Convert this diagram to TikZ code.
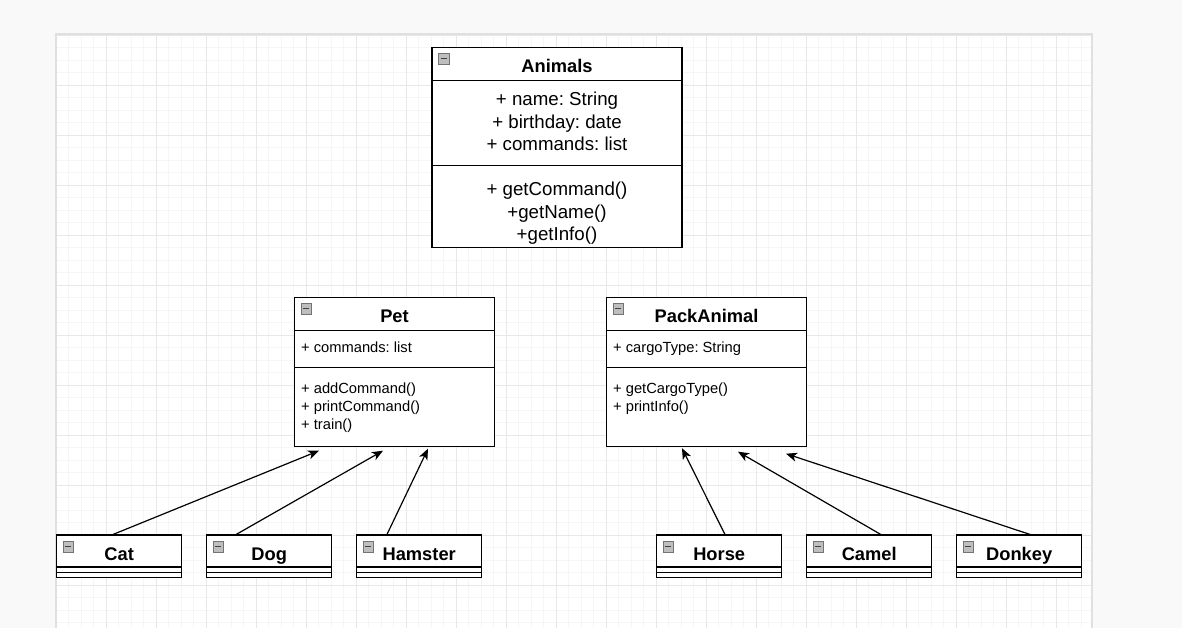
\documentclass[tikz,border=0pt]{standalone}
\usepackage{fontspec}
\setmainfont{Liberation Sans}
\usepackage{tikz}
\usetikzlibrary{arrows.meta, positioning, calc}

\definecolor{pagebg}{RGB}{249,249,249}
\definecolor{gridmin}{RGB}{246,246,246}
\definecolor{gridmaj}{RGB}{232,232,232}
\definecolor{iconfill}{RGB}{190,190,190}
\frenchspacing

\begin{document}
\begin{tikzpicture}[
        x=1pt, y=-1pt,
        node distance=0pt and 25pt,
        head/.style={rectangle, draw=black, fill=white, line width=1.1pt, outer sep=0pt, inner sep=0pt, minimum height=33pt, text height=18pt, text depth=0pt, font=\bfseries\fontsize{18.3}{20}\selectfont},
        comp/.style={rectangle, draw=black, fill=white, line width=1.1pt, outer sep=0pt, inner sep=0pt},
        strip/.style={comp, minimum width=125pt, minimum height=5.2pt},
        big/.style={inner sep=0pt, align=center, font=\fontsize{18.7}{22.3}\selectfont},
        small/.style={inner sep=0pt, align=left, font=\fontsize{14.7}{17.8}\selectfont},
        minus/.style={rectangle, draw=black!55, fill=iconfill, line width=0.6pt, minimum size=10.5pt, inner sep=0pt,
            path picture={\draw[line width=1.4pt, black!75] ([xshift=2.2pt]path picture bounding box.west) -- ([xshift=-2.2pt]path picture bounding box.east);}},
        inherit/.style={line width=1.2pt, -{Stealth[length=11pt, width=9pt, inset=3pt]}}
    ]
    \useasboundingbox (0,0) rectangle (1182,628);

    % canvas with grid
    \fill[pagebg] (0,0) rectangle (1182,628);
    \fill[white] (56,34) rectangle (1092,628);
    \begin{scope}[shift={(56,35)}]
        \draw[gridmin, line width=0.9pt, step=12.5pt] (0,593) grid (1036,0);
        \draw[gridmaj, line width=0.9pt, step=50pt] (0,593) grid (1036,0);
    \end{scope}
    \draw[black!12, line width=1.5pt] (56,628) -- (56,34) -- (1092,34) -- (1092,628);

    % Animals
    \node[head, minimum width=250pt] (animals) at (557,63.7) {Animals};
    \node[comp, minimum width=250pt, minimum height=85pt, below=of animals] (animals-attr) {};
    \node[comp, minimum width=250pt, minimum height=82pt, below=of animals-attr] (animals-meth) {};
    \node[minus, anchor=north west] (animals-icon) at ([shift={(6pt,-6pt)}]animals.north west) {};
    \node[big, anchor=north] (animals-attr-txt) at ([yshift=-12pt]animals-attr.north) {+ name: String\\+ birthday: date\\+ commands: list};
    \node[big, anchor=north] (animals-meth-txt) at ([yshift=-17pt]animals-meth.north) {+ getCommand()\\+getName()\\+getInfo()};

    % Pet
    \node[head, minimum width=200pt] (pet) at (394.5,313.7) {Pet};
    \node[comp, minimum width=200pt, minimum height=37pt, below=of pet] (pet-attr) {};
    \node[comp, minimum width=200pt, minimum height=79.5pt, below=of pet-attr] (pet-meth) {};
    \node[minus, anchor=north west] (pet-icon) at ([shift={(6pt,-6pt)}]pet.north west) {};
    \node[small, anchor=north west] (pet-attr-txt) at ([shift={(6.5pt,-11pt)}]pet-attr.north west) {+ commands: list};
    \node[small, anchor=north west] (pet-meth-txt) at ([shift={(6.5pt,-15.5pt)}]pet-meth.north west) {+ addCommand()\\+ printCommand()\\+ train()};

    % PackAnimal
    \node[head, minimum width=200pt, right=112pt of pet] (pack) {PackAnimal};
    \node[comp, minimum width=200pt, minimum height=37pt, below=of pack] (pack-attr) {};
    \node[comp, minimum width=200pt, minimum height=79.5pt, below=of pack-attr] (pack-meth) {};
    \node[minus, anchor=north west] (pack-icon) at ([shift={(6pt,-6pt)}]pack.north west) {};
    \node[small, anchor=north west] (pack-attr-txt) at ([shift={(6.5pt,-11pt)}]pack-attr.north west) {+ cargoType: String};
    \node[small, anchor=north west] (pack-meth-txt) at ([shift={(6.5pt,-15.5pt)}]pack-meth.north west) {+ getCargoType()\\+ printInfo()};

    % pets row
    \node[head, minimum width=125pt, minimum height=32pt] (cat) at (119.2,551) {Cat};
    \node[strip, below=of cat] (cat-s1) {};
    \node[strip, below=of cat-s1] (cat-s2) {};
    \node[minus, anchor=north west] (cat-icon) at ([shift={(6pt,-6pt)}]cat.north west) {};

    \node[head, minimum width=125pt, minimum height=32pt, right=of cat] (dog) {Dog};
    \node[strip, below=of dog] (dog-s1) {};
    \node[strip, below=of dog-s1] (dog-s2) {};
    \node[minus, anchor=north west] (dog-icon) at ([shift={(6pt,-6pt)}]dog.north west) {};

    \node[head, minimum width=125pt, minimum height=32pt, right=of dog] (hamster) {Hamster};
    \node[strip, below=of hamster] (hamster-s1) {};
    \node[strip, below=of hamster-s1] (hamster-s2) {};
    \node[minus, anchor=north west] (hamster-icon) at ([shift={(6pt,-6pt)}]hamster.north west) {};

    % pack animals row
    \node[head, minimum width=125pt, minimum height=32pt, right=175pt of hamster] (horse) {Horse};
    \node[strip, below=of horse] (horse-s1) {};
    \node[strip, below=of horse-s1] (horse-s2) {};
    \node[minus, anchor=north west] (horse-icon) at ([shift={(6pt,-6pt)}]horse.north west) {};

    \node[head, minimum width=125pt, minimum height=32pt, right=of horse] (camel) {Camel};
    \node[strip, below=of camel] (camel-s1) {};
    \node[strip, below=of camel-s1] (camel-s2) {};
    \node[minus, anchor=north west] (camel-icon) at ([shift={(6pt,-6pt)}]camel.north west) {};

    \node[head, minimum width=125pt, minimum height=32pt, right=of camel] (donkey) {Donkey};
    \node[strip, below=of donkey] (donkey-s1) {};
    \node[strip, below=of donkey-s1] (donkey-s2) {};
    \node[minus, anchor=north west] (donkey-icon) at ([shift={(6pt,-6pt)}]donkey.north west) {};

    % inheritance
    \draw[inherit] ([xshift=-7.5pt]cat.north) -- ([shift={(-75.5pt,-4pt)}]pet-meth.south);
    \draw[inherit] ([xshift=-34pt]dog.north) -- ([shift={(-11.5pt,-4pt)}]pet-meth.south);
    \draw[inherit] ([xshift=-32.5pt]hamster.north) -- ([shift={(33.5pt,-2pt)}]pet-meth.south);
    \draw[inherit] ([xshift=6pt]horse.north) -- ([shift={(-24.5pt,-1.5pt)}]pack-meth.south);
    \draw[inherit] ([xshift=12.5pt]camel.north) -- ([shift={(31.5pt,-5pt)}]pack-meth.south);
    \draw[inherit] ([xshift=12.5pt]donkey.north) -- ([shift={(79.5pt,-7pt)}]pack-meth.south);
\end{tikzpicture}
\end{document}
